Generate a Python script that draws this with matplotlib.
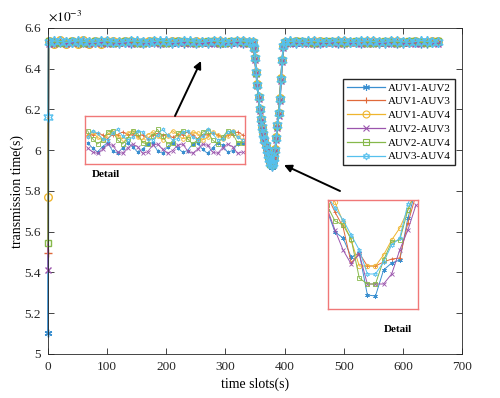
import numpy as np
import matplotlib
matplotlib.use('Agg')
import matplotlib.pyplot as plt
from matplotlib.ticker import FormatStrFormatter

plt.rcParams['font.family'] = ['Liberation Serif', 'DejaVu Serif']
plt.rcParams['mathtext.fontset'] = 'stix'

# ---- data (transmission time in units of 1e-3 s) ----
labels = ['AUV1-AUV2', 'AUV1-AUV3', 'AUV1-AUV4', 'AUV2-AUV3', 'AUV2-AUV4', 'AUV3-AUV4']
colors = ['#3a8fd0', '#e0693a', '#efb52e', '#9b55ad', '#86b84a', '#56c0ee']
markers = [(6, 2, 0), '+', 'o', 'x', 's', (6, 1, 0)]

slots = [0, 1] + list(range(10, 341, 10)) + list(range(346, 401, 2)) + list(range(410, 661, 10))

start_vals = [5.105, 5.494, 5.769, 5.414, 5.543, 6.162]

auv12_flat1 = [6.525, 6.521, 6.527, 6.522, 6.526, 6.520, 6.525, 6.523, 6.527, 6.521, 6.524, 6.526,
               6.520, 6.525, 6.522, 6.527, 6.521, 6.524, 6.526, 6.522, 6.525, 6.520, 6.526, 6.523,
               6.527, 6.521, 6.524, 6.522, 6.526, 6.520, 6.525, 6.523, 6.527, 6.521, 6.524]
auv13_flat1 = [6.534, 6.535, 6.533, 6.534, 6.531, 6.534, 6.536, 6.534, 6.533, 6.534, 6.531, 6.535,
               6.534, 6.534, 6.532, 6.534, 6.536, 6.534, 6.533, 6.531, 6.534, 6.535, 6.534, 6.532,
               6.534, 6.536, 6.534, 6.533, 6.531, 6.534, 6.535, 6.534, 6.532, 6.534, 6.535]
auv14_flat1 = [6.538, 6.522, 6.539, 6.521, 6.538, 6.522, 6.539, 6.521, 6.538, 6.522, 6.538, 6.536,
               6.531, 6.534, 6.537, 6.532, 6.530, 6.535, 6.537, 6.533, 6.531, 6.536, 6.534, 6.530,
               6.533, 6.537, 6.532, 6.531, 6.535, 6.536, 6.533, 6.530, 6.534, 6.537, 6.532]
auv23_flat1 = [6.523, 6.520, 6.526, 6.521, 6.524, 6.527, 6.521, 6.520, 6.525, 6.527, 6.522, 6.520,
               6.524, 6.527, 6.523, 6.520, 6.522, 6.526, 6.527, 6.521, 6.520, 6.524, 6.527, 6.525,
               6.520, 6.521, 6.526, 6.527, 6.522, 6.520, 6.523, 6.527, 6.525, 6.520, 6.522]
auv24_flat1 = [6.536, 6.530, 6.527, 6.533, 6.537, 6.531, 6.527, 6.530, 6.536, 6.537, 6.530, 6.527,
               6.532, 6.537, 6.535, 6.528, 6.527, 6.533, 6.538, 6.532, 6.527, 6.529, 6.536, 6.537,
               6.530, 6.527, 6.531, 6.537, 6.535, 6.528, 6.528, 6.534, 6.537, 6.531, 6.527]
auv34_flat1 = [6.532, 6.537, 6.534, 6.530, 6.532, 6.537, 6.535, 6.531, 6.530, 6.535, 6.538, 6.533,
               6.530, 6.532, 6.537, 6.536, 6.531, 6.530, 6.534, 6.538, 6.534, 6.530, 6.531, 6.536,
               6.537, 6.532, 6.530, 6.533, 6.538, 6.535, 6.530, 6.531, 6.536, 6.537, 6.532]

auv12_dip = [6.528, 6.497, 6.446, 6.377, 6.316, 6.255, 6.196, 6.146, 6.106, 6.076, 6.046, 6.021, 5.995, 5.968,
             5.948, 5.926, 5.918, 5.930, 5.955, 5.996, 6.055, 6.116, 6.176, 6.246, 6.345, 6.436, 6.506, 6.528]
auv13_dip = [6.533, 6.502, 6.452, 6.382, 6.322, 6.262, 6.202, 6.152, 6.112, 6.082, 6.052, 6.027, 6.003, 5.978,
             5.962, 5.940, 5.932, 5.942, 5.966, 6.003, 6.062, 6.122, 6.183, 6.253, 6.352, 6.443, 6.512, 6.532]
auv14_dip = [6.532, 6.503, 6.453, 6.383, 6.323, 6.263, 6.203, 6.153, 6.113, 6.083, 6.053, 6.028, 6.004, 5.980,
             5.963, 5.941, 5.933, 5.943, 5.968, 6.004, 6.064, 6.124, 6.184, 6.254, 6.354, 6.444, 6.513, 6.533]
auv23_dip = [6.522, 6.495, 6.444, 6.375, 6.314, 6.253, 6.194, 6.144, 6.104, 6.073, 6.043, 6.018, 5.992, 5.966,
             5.950, 5.934, 5.926, 5.928, 5.950, 5.990, 6.050, 6.110, 6.170, 6.240, 6.340, 6.432, 6.502, 6.524]
auv24_dip = [6.532, 6.501, 6.451, 6.381, 6.321, 6.261, 6.201, 6.151, 6.111, 6.081, 6.051, 6.026, 6.001, 5.974,
             5.955, 5.934, 5.926, 5.937, 5.962, 6.002, 6.061, 6.121, 6.181, 6.251, 6.351, 6.441, 6.511, 6.533]
auv34_dip = [6.533, 6.502, 6.452, 6.382, 6.322, 6.262, 6.202, 6.152, 6.112, 6.082, 6.052, 6.027, 6.002, 5.977,
             5.958, 5.937, 5.929, 5.939, 5.964, 6.003, 6.062, 6.122, 6.182, 6.252, 6.352, 6.442, 6.512, 6.533]

auv12_flat2 = [6.526, 6.521, 6.524, 6.527, 6.522, 6.520, 6.525, 6.527, 6.523, 6.521, 6.526, 6.524, 6.520,
               6.525, 6.527, 6.522, 6.521, 6.526, 6.523, 6.520, 6.525, 6.527, 6.522, 6.521, 6.526, 6.524]
auv13_flat2 = [6.534, 6.532, 6.534, 6.535, 6.534, 6.531, 6.534, 6.536, 6.534, 6.533, 6.534, 6.531, 6.535,
               6.534, 6.532, 6.534, 6.536, 6.534, 6.533, 6.531, 6.534, 6.535, 6.534, 6.532, 6.534, 6.535]
auv14_flat2 = [6.533, 6.536, 6.531, 6.530, 6.535, 6.537, 6.532, 6.531, 6.534, 6.537, 6.533, 6.530, 6.533,
               6.536, 6.535, 6.530, 6.532, 6.537, 6.534, 6.531, 6.533, 6.536, 6.532, 6.530, 6.535, 6.537]
auv23_flat2 = [6.521, 6.524, 6.527, 6.523, 6.520, 6.522, 6.526, 6.527, 6.521, 6.520, 6.525, 6.527, 6.522,
               6.520, 6.523, 6.527, 6.525, 6.520, 6.521, 6.526, 6.527, 6.522, 6.520, 6.524, 6.527, 6.523]
auv24_flat2 = [6.530, 6.536, 6.537, 6.531, 6.527, 6.530, 6.536, 6.537, 6.530, 6.527, 6.532, 6.537, 6.535,
               6.528, 6.527, 6.533, 6.538, 6.532, 6.527, 6.529, 6.536, 6.537, 6.530, 6.527, 6.531, 6.536]
auv34_flat2 = [6.535, 6.531, 6.530, 6.534, 6.538, 6.533, 6.530, 6.532, 6.537, 6.536, 6.531, 6.530, 6.534,
               6.538, 6.534, 6.530, 6.531, 6.536, 6.537, 6.532, 6.530, 6.533, 6.538, 6.535, 6.530, 6.532]

flat1 = [auv12_flat1, auv13_flat1, auv14_flat1, auv23_flat1, auv24_flat1, auv34_flat1]
dips = [auv12_dip, auv13_dip, auv14_dip, auv23_dip, auv24_dip, auv34_dip]
flat2 = [auv12_flat2, auv13_flat2, auv14_flat2, auv23_flat2, auv24_flat2, auv34_flat2]

# zoomed detail of the flat part (consecutive slots)
detail_flat_x = list(range(32))
detail_flat = [
    [6.528, 6.524, 6.521, 6.525, 6.528, 6.522, 6.520, 6.524, 6.528, 6.525, 6.521, 6.523, 6.527, 6.528, 6.522, 6.520,
     6.525, 6.528, 6.524, 6.521, 6.522, 6.527, 6.528, 6.523, 6.520, 6.524, 6.528, 6.526, 6.521, 6.522, 6.527, 6.528],
    [6.534, 6.534, 6.535, 6.534, 6.531, 6.534, 6.534, 6.536, 6.534, 6.534, 6.533, 6.534, 6.531, 6.534, 6.535, 6.534,
     6.534, 6.532, 6.534, 6.534, 6.536, 6.534, 6.531, 6.534, 6.534, 6.535, 6.534, 6.532, 6.534, 6.534, 6.536, 6.534],
    [6.533, 6.536, 6.532, 6.530, 6.534, 6.537, 6.533, 6.531, 6.535, 6.537, 6.532, 6.530, 6.534, 6.536, 6.533, 6.530,
     6.533, 6.537, 6.534, 6.531, 6.532, 6.536, 6.535, 6.530, 6.532, 6.536, 6.534, 6.531, 6.533, 6.537, 6.533, 6.530],
    [6.524, 6.521, 6.520, 6.523, 6.527, 6.526, 6.521, 6.520, 6.524, 6.527, 6.525, 6.520, 6.521, 6.526, 6.527, 6.523,
     6.520, 6.522, 6.526, 6.527, 6.522, 6.520, 6.523, 6.527, 6.526, 6.521, 6.520, 6.524, 6.527, 6.525, 6.520, 6.521],
    [6.537, 6.531, 6.527, 6.530, 6.536, 6.537, 6.530, 6.527, 6.531, 6.537, 6.535, 6.528, 6.527, 6.533, 6.538, 6.533,
     6.527, 6.528, 6.535, 6.537, 6.531, 6.527, 6.530, 6.536, 6.537, 6.530, 6.527, 6.532, 6.537, 6.535, 6.528, 6.528],
    [6.532, 6.537, 6.535, 6.531, 6.530, 6.535, 6.538, 6.533, 6.530, 6.532, 6.537, 6.536, 6.531, 6.530, 6.534, 6.538,
     6.534, 6.530, 6.531, 6.536, 6.537, 6.532, 6.530, 6.533, 6.538, 6.535, 6.530, 6.531, 6.536, 6.537, 6.532, 6.530],
]

# zoomed detail of the bottom of the dip
detail_dip_x = list(range(-1, 11))
detail_dip = [
    [5.945, 5.934, 5.931, 5.9215, 5.9235, 5.9025, 5.902, 5.915, 5.9185, 5.920, 5.941, 5.955],
    [5.9525, 5.944, 5.9365, 5.9185, 5.9235, 5.917, 5.917, 5.919, 5.9205, 5.921, 5.9385, 5.9525],
    [5.955, 5.949, 5.939, 5.930, 5.917, 5.917, 5.917, 5.9225, 5.930, 5.936, 5.945, 5.955],
    [5.946, 5.935, 5.925, 5.918, 5.923, 5.908, 5.908, 5.908, 5.913, 5.925, 5.935, 5.9475],
    [5.9475, 5.9395, 5.9375, 5.9305, 5.911, 5.908, 5.908, 5.920, 5.929, 5.930, 5.945, 5.955],
    [5.9525, 5.946, 5.940, 5.9325, 5.925, 5.913, 5.913, 5.919, 5.9275, 5.931, 5.948, 5.9575],
]

W, H = 500, 398
fig = plt.figure(figsize=(W / 100, H / 100), dpi=100)
ax = fig.add_axes([48 / W, 1 - 354 / H, 414 / W, 326 / H])

main_ms = [5.5, 5.5, 5.5, 5.0, 4.8, 7.5]
for i in range(6):
    vals = [start_vals[i]] + flat1[i] + dips[i] + flat2[i]
    mfc = 'none' if i in (2, 4, 5) else colors[i]
    ax.plot(slots, vals, color=colors[i], marker=markers[i], ms=main_ms[i], mfc=mfc, mew=1.0,
            lw=1.3 if i == 0 else 1.0, label=labels[i], clip_on=False)

ax.set_xlim(0, 700)
ax.set_ylim(5, 6.6)
ax.set_xticks(range(0, 701, 100))
ax.set_yticks([5, 5.2, 5.4, 5.6, 5.8, 6, 6.2, 6.4, 6.6])
ax.yaxis.set_major_formatter(FormatStrFormatter('%g'))
ax.tick_params(direction='in', top=True, right=True, length=4, width=0.6,
               labelsize=9.5, colors='#262626', pad=5)
for s in ax.spines.values():
    s.set_linewidth(0.6)
    s.set_color('#262626')
ax.set_xlabel('time slots(s)', fontsize=10, labelpad=3)
ax.set_ylabel('transmission time(s)', fontsize=10, labelpad=0)
ax.text(0, 1.012, r'$\times10^{-3}$', transform=ax.transAxes, fontsize=9.5, va='bottom')

leg = ax.legend(loc='upper right', bbox_to_anchor=(0.983, 0.844), fontsize=8, frameon=True,
                fancybox=False, edgecolor='#262626', framealpha=1, handlelength=3.4,
                handletextpad=0.3, labelspacing=0.36, borderpad=0.35, borderaxespad=0)
for h in leg.legend_handles:
    h.set_markersize(5)
    h.set_markeredgewidth(0.8)
    h.set_linewidth(0.9)

# detail boxes
in1 = fig.add_axes([85 / W, 1 - 164 / H, 160 / W, 48 / H])
for i in range(6):
    mfc = 'none' if i in (2, 4, 5) else colors[i]
    in1.plot(detail_flat_x, detail_flat[i], color=colors[i], marker=markers[i], ms=2.6,
             mfc=mfc, mew=0.6, lw=0.6)
in1.set_xlim(-0.5, 31.5)
in1.set_ylim(6.512, 6.548)

in2 = fig.add_axes([328 / W, 1 - 309 / H, 90 / W, 109 / H])
for i in range(6):
    mfc = 'none' if i in (2, 4, 5) else colors[i]
    in2.plot(detail_dip_x, detail_dip[i], color=colors[i], marker=markers[i], ms=3.2,
             mfc=mfc, mew=0.6, lw=0.7)
in2.set_xlim(-0.86, 10.25)
in2.set_ylim(5.8955, 5.950)

for a in (in1, in2):
    a.set_xticks([])
    a.set_yticks([])
    for s in a.spines.values():
        s.set_color('#f07878')
        s.set_linewidth(1.0)

fig.text(92 / W, 1 - 175 / H, 'Detail', fontsize=8, fontweight='bold', va='center')
fig.text(384 / W, 1 - 330 / H, 'Detail', fontsize=8, fontweight='bold', va='center')

arrow = dict(arrowstyle='-|>', color='black', lw=1.4, mutation_scale=11, shrinkA=0, shrinkB=0)
fig.add_artist(matplotlib.patches.FancyArrowPatch((175 / W, 1 - 116 / H), (201 / W, 1 - 61 / H),
                                                  transform=fig.transFigure, **arrow))
fig.add_artist(matplotlib.patches.FancyArrowPatch((340 / W, 1 - 191 / H), (284 / W, 1 - 165 / H),
                                                  transform=fig.transFigure, **arrow))

fig.savefig('out.png', dpi=100)
